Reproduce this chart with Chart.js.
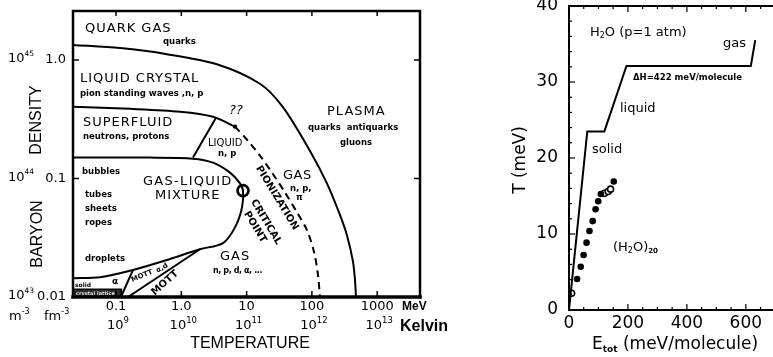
<!DOCTYPE html>
<html>
<head>
<meta charset="utf-8">
<script src="https://cdn.jsdelivr.net/npm/chart.js@4.4.1/dist/chart.umd.min.js"></script>
<style>
  html, body { margin: 0; padding: 0; background: #fff; overflow: hidden; width: 773px; height: 357px; }
  #phase { position: absolute; left: 0; top: 0; }
  #water { position: absolute; left: 480px; top: 0; }
</style>
</head>
<body>
<canvas id="phase" width="460" height="357"></canvas>
<canvas id="water" width="300" height="357"></canvas>
<script>
// ---------- Nuclear matter phase diagram: temperature (MeV) vs baryon density (fm^-3) ----------
const tempTicksMeV   = [0.1, 1, 10, 100, 1000];
const tempLabelsMeV  = ['0.1', '1.0', '10', '100', '1000'];
const tempExpKelvin  = ['9', '10', '11', '12', '13'];
const densityTicks   = [0.01, 0.1, 1];
const densityLabels  = ['0.01', '0.1', '1.0'];
const densityExpSI   = ['43', '44', '45'];

// deconfinement boundary (quark gas / plasma)
const deconfinementT = [0.022, 0.115, 0.60, 3.5, 16, 36, 94, 170, 270, 345, 425, 457, 473];
const deconfinementN = [1.34, 1.26, 1.12, 0.92, 0.63, 0.40, 0.17, 0.091, 0.049, 0.033, 0.020, 0.0139, 0.01];
// superfluid / liquid crystal boundary
const superfluidT = [0.022, 0.164, 0.955, 3.06, 6.64];
const superfluidN = [0.403, 0.387, 0.366, 0.332, 0.274];
// pionization line (dashed)
const pionizationT = [6.64, 10.5, 16.0, 24.5, 38.7, 59.1, 84.1, 108, 124, 133];
const pionizationN = [0.274, 0.208, 0.156, 0.112, 0.0762, 0.0518, 0.0366, 0.0239, 0.0153, 0.01];
// superfluid / liquid divider
const liquidEdgeT = [3.40, 1.51];
const liquidEdgeN = [0.326, 0.150];
// gas-liquid coexistence dome
const coexistenceT = [0.022, 0.33, 1.51, 3.06, 5.57, 7.93, 8.81, 8.51, 6.64, 4.35, 1.93, 0.60, 0.182, 0.057, 0.022];
const coexistenceN = [0.150, 0.150, 0.147, 0.136, 0.112, 0.091, 0.079, 0.057, 0.0387, 0.0285, 0.0253, 0.0205, 0.0169, 0.0147, 0.0144];
// Mott lines
const mottInnerT = [0.182, 0.119];
const mottInnerN = [0.0169, 0.01];
const mottOuterT = [1.93, 0.153];
const mottOuterN = [0.0253, 0.01];
// critical point and the uncertain triple point
const criticalT = [8.81];
const criticalN = [0.079];
const unknownT = [6.64];
const unknownN = [0.274];
// crystal strip along the bottom-left
const crystalT = [0.022, 0.121];
const crystalN = [0.01, 0.0116];

// ---------- Caloric curve of water: E_tot (meV/molecule) vs T (meV) ----------
const energyTicks = [0, 200, 400, 600];
const tempTicksMeVw = [0, 10, 20, 30, 40];
const bulkE = [0, 62, 120, 195, 617, 632];
const bulkT = [0, 23.5, 23.5, 32.1, 32.1, 35.5];
const clusterE = [27.4, 39.7, 49.6, 59.5, 69.4, 80.4, 90.2, 99.2, 108, 152];
const clusterT = [4.08, 5.7, 7.24, 8.86, 10.4, 11.7, 13.25, 14.3, 15.26, 16.9];
const clusterOpenE = [8.9, 121, 133, 141];
const clusterOpenT = [2.2, 15.36, 15.6, 15.9];

const ptsOf = (xs, ys) => xs.map((v, i) => ({ x: v, y: ys[i] }));
const curve = (xs, ys, tension = 0.3) => ({
  data: ptsOf(xs, ys), showLine: true, borderColor: '#000', borderWidth: 2,
  pointRadius: 0, tension: tension, fill: false
});
const zeroPad = s => { s.paddingTop = 0; s.paddingBottom = 0; s.paddingLeft = 0; s.paddingRight = 0; };

const DV = '"DejaVu Sans"';
const LS = '"Liberation Sans", Arial, sans-serif';

function drawLabel(ctx, L) {
  ctx.save();
  ctx.font = L.f;
  ctx.fillStyle = '#000';
  ctx.textAlign = L.a || 'left';
  ctx.textBaseline = 'middle';
  if ('letterSpacing' in ctx) ctx.letterSpacing = (L.ls || 0) + 'px';
  ctx.translate(L.x, L.y);
  if (L.r) ctx.rotate(L.r * Math.PI / 180);
  ctx.fillText(L.t, 0, 0);
  ctx.restore();
}

// segments: [text, font, vertical shift]
function rich(ctx, segs, x, y, align) {
  ctx.save();
  ctx.fillStyle = '#000';
  let w = 0;
  segs.forEach(s => { ctx.font = s[1]; w += ctx.measureText(s[0]).width; });
  let cx = align === 'center' ? x - w / 2 : (align === 'right' ? x - w : x);
  ctx.textAlign = 'left';
  ctx.textBaseline = 'middle';
  segs.forEach(s => {
    ctx.font = s[1];
    ctx.fillText(s[0], cx, y + (s[2] || 0));
    cx += ctx.measureText(s[0]).width;
  });
  ctx.restore();
}

const big = '13px ' + DV;
const small = 'bold 8.5px ' + DV;
const phaseLabels = [
  { t: 'QUARK GAS', x: 85, y: 29, f: big, ls: 1 },
  { t: 'quarks', x: 163, y: 42, f: small },
  { t: 'LIQUID CRYSTAL', x: 80, y: 79, f: big, ls: 1 },
  { t: 'pion standing waves ,n, p', x: 80, y: 94, f: small },
  { t: 'SUPERFLUID', x: 83, y: 123, f: big, ls: 1 },
  { t: 'neutrons, protons', x: 83, y: 137, f: small },
  { t: '??', x: 236, y: 111, f: 'italic 13px ' + DV, a: 'center' },
  { t: 'LIQUID', x: 208, y: 143, f: '10px ' + DV },
  { t: 'n, p', x: 218, y: 154, f: small },
  { t: 'bubbles', x: 82, y: 172, f: small },
  { t: 'GAS-LIQUID', x: 143, y: 182, f: big, ls: 1.3 },
  { t: 'MIXTURE', x: 155, y: 196, f: big, ls: 1 },
  { t: 'tubes', x: 85, y: 195, f: small },
  { t: 'sheets', x: 85, y: 209, f: small },
  { t: 'ropes', x: 85, y: 223, f: small },
  { t: 'droplets', x: 85, y: 259, f: small },
  { t: 'GAS', x: 220, y: 257, f: big, ls: 1 },
  { t: 'n, p, d, α, ...', x: 213, y: 271, f: 'bold 8px ' + DV, ls: -0.4 },
  { t: 'PLASMA', x: 327, y: 112, f: big, ls: 1 },
  { t: 'quarks  antiquarks', x: 308, y: 128, f: small },
  { t: 'gluons', x: 340, y: 143, f: small },
  { t: 'GAS', x: 283, y: 176, f: big, ls: 0.5 },
  { t: 'n, p,', x: 290, y: 189, f: small },
  { t: 'π', x: 296, y: 198, f: small },
  { t: 'PIONIZATION', x: 277, y: 198, f: 'bold 10px ' + DV, a: 'center', r: 58.5 },
  { t: 'CRITICAL', x: 266, y: 222, f: 'bold 10px ' + DV, a: 'center', r: 59 },
  { t: 'POINT', x: 255, y: 227, f: 'bold 10px ' + DV, a: 'center', r: 59 },
  { t: 'MOTT', x: 165, y: 283, f: 'bold 10px ' + DV, a: 'center', r: -42 },
  { t: 'MOTT', x: 142, y: 276, f: 'bold 7px ' + DV, a: 'center', r: -22 },
  { t: 'α,d', x: 162, y: 268, f: 'bold 7px ' + DV, a: 'center', r: -30 },
  { t: 'solid', x: 75, y: 285, f: 'bold 6px ' + DV },
  { t: 'α', x: 112, y: 282, f: 'bold 9px ' + DV }
];

const phaseDecor = {
  id: 'phaseDecor',
  beforeDatasetsDraw(chart) {
    const { ctx, scales: { x, y } } = chart;
    const x0 = x.getPixelForValue(crystalT[0]), x1 = x.getPixelForValue(crystalT[1]);
    const yb = y.getPixelForValue(crystalN[0]), yt = y.getPixelForValue(crystalN[1]);
    ctx.save();
    ctx.fillStyle = '#2b2b2b';
    ctx.fillRect(x0, yt, x1 - x0, yb - yt);
    ctx.strokeStyle = '#000';
    ctx.lineWidth = 1.5;
    ctx.beginPath(); ctx.moveTo(x0, yt); ctx.lineTo(x1, yt); ctx.lineTo(x1, yb); ctx.stroke();
    ctx.fillStyle = '#ddd';
    ctx.font = 'bold 5px ' + DV;
    ctx.textBaseline = 'middle';
    ctx.fillText('crystal lattice', x0 + 3, (yt + yb) / 2 + 0.5);
    ctx.restore();
  },
  afterDraw(chart) {
    const { ctx, chartArea: a, scales: { x, y } } = chart;
    ctx.save();
    ctx.strokeStyle = '#000';
    ctx.lineCap = 'square';
    // frame
    ctx.lineWidth = 2.5;
    ctx.beginPath(); ctx.moveTo(a.left, a.bottom); ctx.lineTo(a.left, a.top); ctx.lineTo(a.right, a.top); ctx.lineTo(a.right, a.bottom); ctx.stroke();
    ctx.lineWidth = 3.5;
    ctx.beginPath(); ctx.moveTo(a.left, a.bottom); ctx.lineTo(a.right, a.bottom); ctx.stroke();
    // inward tick marks
    ctx.lineWidth = 1.5;
    ctx.lineCap = 'butt';
    tempTicksMeV.forEach(v => {
      const px = x.getPixelForValue(v);
      ctx.beginPath(); ctx.moveTo(px, a.bottom); ctx.lineTo(px, a.bottom - 6); ctx.stroke();
      ctx.beginPath(); ctx.moveTo(px, a.top); ctx.lineTo(px, a.top + 5); ctx.stroke();
    });
    densityTicks.slice(1).forEach(v => {
      const py = y.getPixelForValue(v);
      ctx.beginPath(); ctx.moveTo(a.left, py); ctx.lineTo(a.left + 6, py); ctx.stroke();
      ctx.beginPath(); ctx.moveTo(a.right, py); ctx.lineTo(a.right - 6, py); ctx.stroke();
    });
    ctx.restore();

    // SI density labels (m^-3) beside the fm^-3 ticks
    densityTicks.forEach((v, i) => {
      const py = y.getPixelForValue(v) - 1;
      rich(ctx, [['10', '13px ' + DV], [densityExpSI[i], '7.5px ' + DV, -5]], 8, py, 'left');
    });
    rich(ctx, [['m', '13px ' + DV], ['-3', '8px ' + DV, -5]], 9, 317, 'left');
    rich(ctx, [['fm', '13px ' + DV], ['-3', '8px ' + DV, -5]], 44, 317, 'left');
    // Kelvin row under the MeV ticks
    tempTicksMeV.forEach((v, i) => {
      const px = x.getPixelForValue(v);
      rich(ctx, [['10', '13px ' + DV], [tempExpKelvin[i], '8.5px ' + DV, -5]], px + 2, 326, 'center');
    });
    drawLabel(ctx, { t: 'MeV', x: 402, y: 307, f: 'bold 12px ' + LS });
    drawLabel(ctx, { t: 'Kelvin', x: 400, y: 327, f: 'bold 16px ' + LS });
    drawLabel(ctx, { t: 'TEMPERATURE', x: 250, y: 344, f: '16px ' + LS, a: 'center' });
    drawLabel(ctx, { t: 'DENSITY', x: 37, y: 120, f: '16px ' + LS, a: 'center', r: -90 });
    drawLabel(ctx, { t: 'BARYON', x: 38, y: 234, f: '16px ' + LS, a: 'center', r: -90 });
    phaseLabels.forEach(L => drawLabel(ctx, L));
  }
};

new Chart(document.getElementById('phase'), {
  type: 'scatter',
  data: {
    datasets: [
      curve(deconfinementT, deconfinementN),
      curve(superfluidT, superfluidN),
      Object.assign(curve(pionizationT, pionizationN), { borderDash: [7, 5] }),
      curve(liquidEdgeT, liquidEdgeN, 0),
      curve(coexistenceT, coexistenceN),
      curve(mottInnerT, mottInnerN, 0),
      curve(mottOuterT, mottOuterN, 0),
      { data: ptsOf(criticalT, criticalN), pointRadius: 5.5, pointBorderWidth: 2.6,
        pointBackgroundColor: '#fff', pointBorderColor: '#000' },
      { data: ptsOf(unknownT, unknownN), pointRadius: 2.2, pointBorderWidth: 0,
        pointBackgroundColor: '#000' }
    ]
  },
  options: {
    responsive: false, animation: false, devicePixelRatio: 1, events: [],
    layout: { padding: { left: 0, right: 40, top: 11, bottom: 0 } },
    plugins: { legend: { display: false }, tooltip: { enabled: false } },
    scales: {
      x: {
        type: 'logarithmic', min: 0.02195, max: 4524,
        grid: { display: false, drawTicks: false }, border: { display: false },
        afterBuildTicks: s => { s.ticks = tempTicksMeV.map(v => ({ value: v })); },
        afterFit: s => { s.height = 60; zeroPad(s); },
        ticks: { autoSkip: false, maxRotation: 0, minRotation: 0, padding: 2, color: '#000',
                 font: { family: 'DejaVu Sans', size: 13 },
                 callback: (v, i) => tempLabelsMeV[i] }
      },
      y: {
        type: 'logarithmic', min: 0.01, max: 2.59,
        grid: { display: false, drawTicks: false }, border: { display: false },
        afterBuildTicks: s => { s.ticks = densityTicks.map(v => ({ value: v })); },
        afterFit: s => { s.width = 73; zeroPad(s); },
        ticks: { autoSkip: false, padding: 7, color: '#000',
                 font: { family: 'DejaVu Sans', size: 13 },
                 callback: (v, i) => densityLabels[i] }
      }
    }
  },
  plugins: [phaseDecor]
});

// ---------- water caloric curve ----------
const waterDecor = {
  id: 'waterDecor',
  afterDraw(chart) {
    const { ctx, chartArea: a, scales: { x, y } } = chart;
    ctx.save();
    ctx.strokeStyle = '#000';
    ctx.lineWidth = 2;
    ctx.beginPath(); ctx.moveTo(a.right + 5, a.top); ctx.lineTo(a.left, a.top); ctx.lineTo(a.left, a.bottom); ctx.lineTo(a.right + 5, a.bottom); ctx.stroke();
    ctx.lineWidth = 1.2;
    for (let v = 0; v <= 40; v += 2) {
      const py = y.getPixelForValue(v);
      const len = v % 10 === 0 ? 6 : 3;
      ctx.beginPath(); ctx.moveTo(a.left, py); ctx.lineTo(a.left + len, py); ctx.stroke();
    }
    for (let v = 50; v <= 650; v += 50) {
      const px = x.getPixelForValue(v);
      const len = v % 200 === 0 ? 6 : 3;
      ctx.beginPath(); ctx.moveTo(px, a.bottom); ctx.lineTo(px, a.bottom - len); ctx.stroke();
      ctx.beginPath(); ctx.moveTo(px, a.top); ctx.lineTo(px, a.top + len); ctx.stroke();
    }
    ctx.restore();

    const off = 480;
    const f13 = '13px ' + DV;
    rich(ctx, [['H', f13], ['2', '8px ' + DV, 3], ['O (p=1 atm)', f13]], 590 - off, 33, 'left');
    drawLabel(ctx, { t: 'gas', x: 723 - off, y: 44, f: f13 });
    drawLabel(ctx, { t: 'ΔH=422 meV/molecule', x: 633 - off, y: 78, f: 'bold 8.5px ' + DV });
    drawLabel(ctx, { t: 'liquid', x: 620 - off, y: 109, f: f13 });
    drawLabel(ctx, { t: 'solid', x: 592 - off, y: 150, f: f13 });
    rich(ctx, [['(H', f13], ['2', '8px ' + DV, 3], ['O)', f13], ['20', 'bold 7px ' + DV, 3]], 613 - off, 248, 'left');
    // axis titles
    ctx.save();
    ctx.translate(521 - off, 160);
    ctx.rotate(-Math.PI / 2);
    rich(ctx, [['T (meV)', '17px ' + DV]], 0, 0, 'center');
    ctx.restore();
    rich(ctx, [['E', '17px ' + DV], ['tot', 'bold 9px ' + DV, 5], [' (meV/molecule)', '17px ' + DV]], 592 - off, 345, 'left');
  }
};

new Chart(document.getElementById('water'), {
  type: 'scatter',
  data: {
    datasets: [
      curve(bulkE, bulkT, 0),
      { data: ptsOf(clusterE, clusterT), pointRadius: 3.3, pointBorderWidth: 0, pointBackgroundColor: '#000' },
      { data: ptsOf(clusterOpenE, clusterOpenT), pointRadius: 3, pointBorderWidth: 1.6,
        pointBackgroundColor: '#fff', pointBorderColor: '#000' }
    ]
  },
  options: {
    responsive: false, animation: false, devicePixelRatio: 1, events: [],
    layout: { padding: { left: 0, right: 0, top: 6, bottom: 0 } },
    plugins: { legend: { display: false }, tooltip: { enabled: false } },
    scales: {
      x: {
        type: 'linear', min: 0, max: 697,
        grid: { display: false, drawTicks: false }, border: { display: false },
        afterBuildTicks: s => { s.ticks = energyTicks.map(v => ({ value: v })); },
        afterFit: s => { s.height = 47; zeroPad(s); },
        ticks: { autoSkip: false, maxRotation: 0, padding: 3, color: '#000',
                 font: { family: 'DejaVu Sans', size: 17 } }
      },
      y: {
        type: 'linear', min: 0, max: 40,
        grid: { display: false, drawTicks: false }, border: { display: false },
        afterBuildTicks: s => { s.ticks = tempTicksMeVw.map(v => ({ value: v })); },
        afterFit: s => { s.width = 89; zeroPad(s); },
        ticks: { autoSkip: false, padding: 11, color: '#000',
                 font: { family: 'DejaVu Sans', size: 17 } }
      }
    }
  },
  plugins: [waterDecor]
});
</script>
</body>
</html>
